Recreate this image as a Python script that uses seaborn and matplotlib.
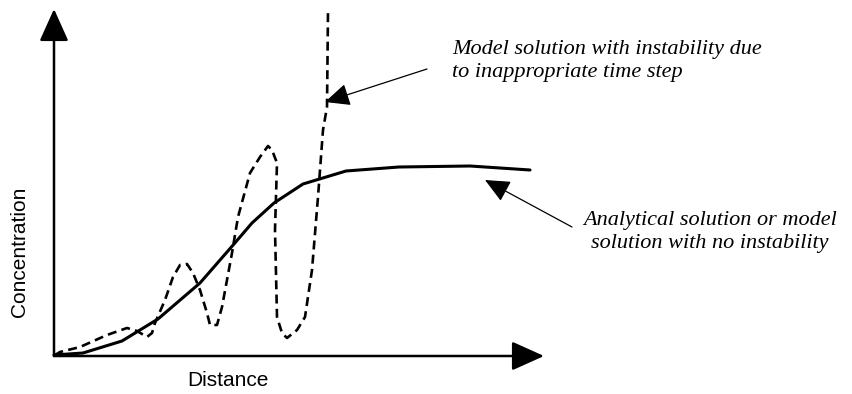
import matplotlib
matplotlib.use("Agg")
import matplotlib.pyplot as plt
import numpy as np
import pandas as pd
import seaborn as sns

# curves (arbitrary distance / concentration units)
analytical_x = [0, 29, 68, 104, 146, 180, 198, 220, 249, 292, 345, 416, 476]
analytical_y = [1, 3, 15, 37, 73, 112, 133, 153, 172, 185, 189, 190, 186]

unstable_x = [1, 6, 26, 53, 73, 83, 93, 98, 101, 111, 119, 126, 133, 139, 146,
              153, 156, 163, 168, 173, 178, 184, 196, 206, 214, 218, 223, 221,
              223, 228, 233, 243, 251, 258, 264, 269, 273, 274]
unstable_y = [1, 4, 9, 21, 28, 25, 19, 23, 33, 56, 79, 91, 92, 83, 66, 43, 31,
              31, 49, 76, 103, 139, 183, 199, 210, 206, 193, 126, 39, 23, 18,
              26, 39, 86, 159, 226, 249, 344]

sns.set_theme(style="white")
plt.rcParams['font.family'] = ['Liberation Sans', 'DejaVu Sans']
plt.rcParams['text.color'] = 'black'

fig = plt.figure(figsize=(8.52, 3.94), dpi=100)
ax = fig.add_axes([0, 0, 1, 1])

sol = pd.DataFrame({"x": analytical_x, "y": analytical_y})
uns = pd.DataFrame({"x": unstable_x, "y": unstable_y})
sns.lineplot(data=sol, x="x", y="y", ax=ax, color="black", lw=2.2,
             sort=False, estimator=None)
sns.lineplot(data=uns, x="x", y="y", ax=ax, color="black", lw=1.9,
             sort=False, estimator=None, linestyle=(0, (3.4, 2.0)))

ax.set_xlim(-54, 798)
ax.set_ylim(-38, 356)
ax.axis("off")

# axes drawn as arrows
axis_arrow = dict(arrowstyle="-|>,head_length=1.0,head_width=0.45",
                  color="black", lw=1.8, mutation_scale=20, shrinkA=0, shrinkB=0)
ax.annotate("", xy=(0, 347), xytext=(0, 0), arrowprops=axis_arrow)
ax.annotate("", xy=(490, 0), xytext=(0, 0), arrowprops=axis_arrow)

ax.text(-34, 104, "Concentration", rotation=90, ha="center", va="center", fontsize=15)
ax.text(174, -25, "Distance", ha="center", va="center", fontsize=15)

note_arrow = dict(arrowstyle="-|>,head_length=1.1,head_width=0.5",
                  color="black", lw=0.9, mutation_scale=14, shrinkA=0, shrinkB=0)
serif = ['Liberation Serif', 'DejaVu Serif']
ax.annotate("", xy=(271, 254), xytext=(373, 287), arrowprops=note_arrow)
ax.text(398, 295, "Model solution with instability due\nto inappropriate time step",
        fontsize=16, family=serif, style="italic",
        ha="left", va="center", linespacing=1.25)
ax.annotate("", xy=(431, 176), xytext=(518, 129), arrowprops=note_arrow)
ax.text(656, 124, "Analytical solution or model\nsolution with no instability",
        fontsize=16, family=serif, style="italic",
        ha="center", va="center", linespacing=1.25, multialignment="center")

fig.savefig("out.png", dpi=100)
